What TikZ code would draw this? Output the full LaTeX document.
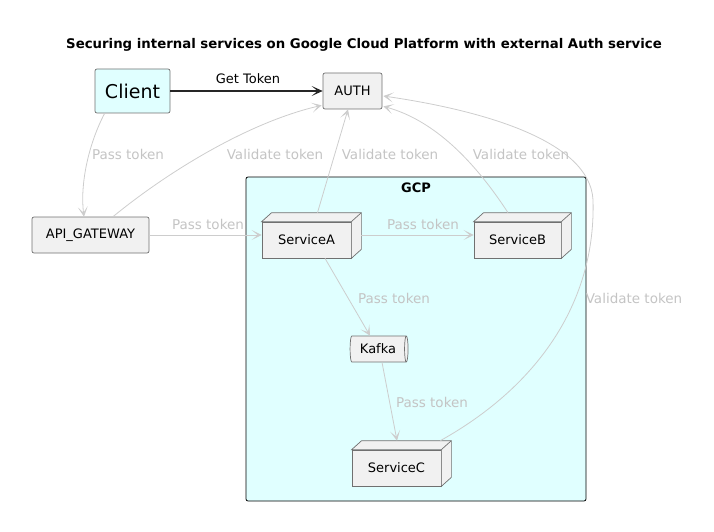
\documentclass[tikz,border=0pt]{standalone}
\usepackage{fontspec}
\setmainfont{DejaVu Sans}
\usetikzlibrary{arrows.meta,shapes.geometric,calc}

\definecolor{boxfill}{HTML}{F1F1F1}
\definecolor{boxline}{HTML}{707070}
\definecolor{cyanfill}{HTML}{E0FFFF}
\definecolor{flowgray}{HTML}{CDCDCD}
\definecolor{labelgray}{HTML}{C4C4C4}

\tikzset{
  txt/.style={font=\fontsize{13}{15}\selectfont},
  plainbox/.style={txt, draw=boxline, fill=boxfill, rounded corners=2pt, line width=0.7pt, inner sep=0pt},
  svcbox/.style={txt, draw=boxline, fill=boxfill, line width=0.7pt, inner sep=0pt, minimum width=89pt, minimum height=36pt},
  flow/.style={draw=flowgray, line width=0.8pt, -{Stealth[length=10pt,width=10pt,inset=6pt]}},
  flowlabel/.style={font=\fontsize{13.5}{15}\selectfont, text=labelgray},
}

\begin{document}
\begin{tikzpicture}[x=1pt,y=-1pt]
\useasboundingbox (0,0) rectangle (714,532);
\node[font=\bfseries\fontsize{13.3}{15}\selectfont] (title) at (364,45) {Securing internal services on Google Cloud Platform with external Auth service};

% GCP frame
\node[draw=black, fill=cyanfill, rounded corners=2pt, line width=0.8pt, minimum width=340pt, minimum height=324pt] (gcp) at (416,339) {};
\node[txt, font=\bfseries\fontsize{13}{15}\selectfont, below] (gcplabel) at ([yshift=-3pt]gcp.north) {GCP};

% nodes
\node[plainbox, fill=cyanfill, minimum width=75pt, minimum height=44pt, font=\fontsize{19}{22}\selectfont] (client) at (132.5,91) {Client};
\node[plainbox, minimum width=59pt, minimum height=36pt] (auth) at (352.5,91) {AUTH};
\node[plainbox, minimum width=117pt, minimum height=36pt] (apigw) at (90.5,235) {API\_GATEWAY};
\node[svcbox] (svca) at (306.5,240) {ServiceA};
\node[svcbox, minimum width=87pt] (svcb) at (517.5,240) {ServiceB};
\node[svcbox] (svcc) at (396.5,468) {ServiceC};
\node[txt, cylinder, draw=boxline, fill=boxfill, line width=0.7pt, aspect=0.35, minimum width=26pt, minimum height=58pt, inner sep=0pt] (kafka) at (378,349) {Kafka};

% 3D faces
\foreach \n in {svca,svcb,svcc} {
  \draw[draw=boxline, fill=boxfill, line width=0.7pt] (\n.north west) -- ++(10,-9) -- ($(\n.north east)+(10,-9)$) -- ($(\n.south east)+(10,-9)$) -- (\n.south east) -- (\n.north east) -- cycle;
  \draw[boxline, line width=0.7pt] (\n.north east) -- ++(10,-9);
}

% token request
\draw[line width=1.4pt, color=black!85, -{Stealth[length=11pt,width=10pt,inset=6pt]}] (client) -- (auth);
\node[txt] (gettoken) at (248,79) {Get Token};

% passing the token
\draw[flow] ($(client.south west)+(10,0)$) .. controls (88,145) and (80,185) .. ($(apigw.north)+(-6.5,0)$);
\draw[flow] (apigw.east) -- ([yshift=5pt]svca.west);
\draw[flow] ($(svca.east)+(10,-5)$) -- ([yshift=5pt]svcb.west);
\draw[flow] ($(svca.south)+(18.5,0)$) -- ($(kafka.north)+(-8,0)$);
\draw[flow] ($(kafka.south)+(4,0)$) -- ($(svcc.north)+(0.5,-9)$);
\node[flowlabel] (pass1) at (128,154) {Pass token};
\node[flowlabel] (pass2) at (208,224) {Pass token};
\node[flowlabel] (pass3) at (423,224) {Pass token};
\node[flowlabel] (pass4) at (394,298) {Pass token};
\node[flowlabel] (pass5) at (432,402) {Pass token};

% validating the token
\draw[flow] ($(apigw.north)+(22.5,0)$) .. controls (170,170) and (250,122) .. ($(auth.south west)+(-1,-4)$);
\draw[flow] ($(svca.north)+(11,-9)$) -- ([xshift=-4.5pt]auth.south);
\draw[flow] ($(svcb.north)+(-9.5,-9)$) .. controls (480,170) and (440,122) .. ($(auth.south east)+(1,-3)$);
\draw[flow] ($(svcc.north east)+(-1,-9)$) .. controls (540,385) and (596,300) .. (593,200) .. controls (590,140) and (480,110) .. ($(auth.east)+(1,5)$);
\node[flowlabel] (valid1) at (275,154) {Validate token};
\node[flowlabel] (valid2) at (390,154) {Validate token};
\node[flowlabel] (valid3) at (521,154) {Validate token};
\node[flowlabel] (valid4) at (634,298) {Validate token};
\end{tikzpicture}
\end{document}
